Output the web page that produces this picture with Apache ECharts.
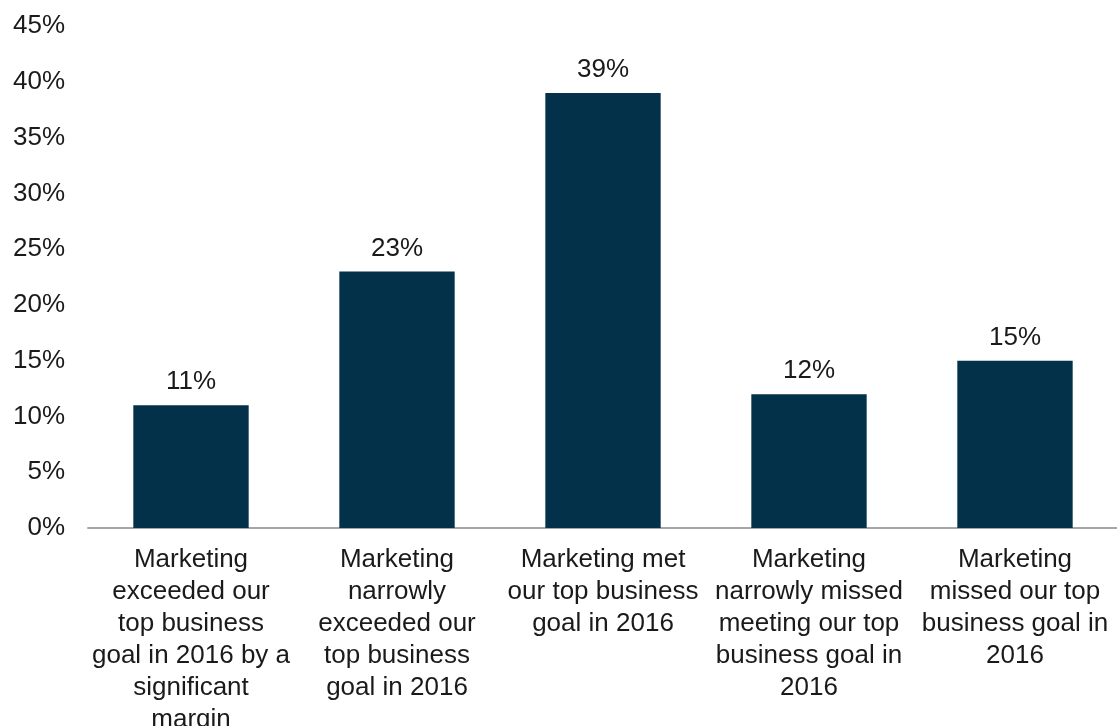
<!DOCTYPE html>
<html><head><meta charset="utf-8">
<script src="https://cdn.jsdelivr.net/npm/echarts@6/dist/echarts.min.js"></script>
<style>html,body{margin:0;padding:0;background:#fff}#c{width:1117px;height:726px}</style>
</head><body><div id="c"></div>
<script>
const categories = [
  "Marketing\nexceeded our\ntop business\ngoal in 2016 by a\nsignificant\nmargin",
  "Marketing\nnarrowly\nexceeded our\ntop business\ngoal in 2016",
  "Marketing met\nour top business\ngoal in 2016",
  "Marketing\nnarrowly missed\nmeeting our top\nbusiness goal in\n2016",
  "Marketing\nmissed our top\nbusiness goal in\n2016"
];
const values = [11, 23, 39, 12, 15];
const yTicks = { min: 0, max: 45, interval: 5 };

const FONT = 'Liberation Sans, Arial, sans-serif';
const chart = echarts.init(document.getElementById('c'), null, {renderer: 'canvas'});
chart.setOption({
  animation: false,
  grid: { left: 88, right: -1, top: 26, bottom: 198, containLabel: false, outerBoundsMode: 'none' },
  xAxis: {
    type: 'category',
    data: categories,
    axisLine: { show: true, lineStyle: { color: '#A6A6A6', width: 2 } },
    axisTick: { show: false },
    axisLabel: {
      interval: 0, margin: 16, color: '#1a1a1a',
      fontFamily: FONT, fontSize: 26, lineHeight: 32
    }
  },
  yAxis: {
    type: 'value',
    min: yTicks.min, max: yTicks.max, interval: yTicks.interval,
    axisLine: { show: false }, axisTick: { show: false },
    splitLine: { show: false },
    axisLabel: {
      margin: 23, color: '#1a1a1a',
      fontFamily: FONT, fontSize: 26,
      formatter: v => v + '%'
    }
  },
  series: [{
    type: 'bar',
    data: values,
    barWidth: '56%',
    itemStyle: { color: '#03314A' },
    label: {
      show: true, position: 'top', distance: 10, color: '#1a1a1a',
      fontFamily: FONT, fontSize: 26,
      formatter: p => p.value + '%'
    }
  }]
});
</script></body></html>
